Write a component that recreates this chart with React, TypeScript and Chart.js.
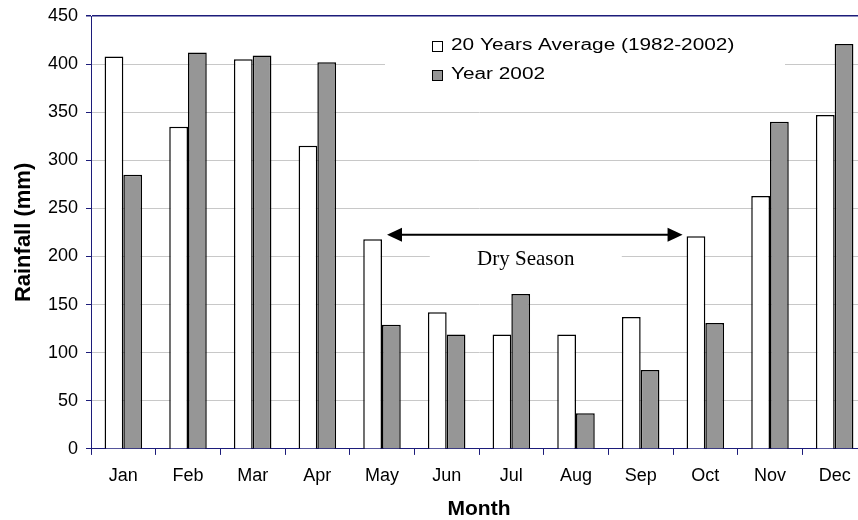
import React, { useEffect, useRef } from "react";
import { Chart, registerables } from "chart.js";

Chart.register(...registerables);

const months = ["Jan", "Feb", "Mar", "Apr", "May", "Jun", "Jul", "Aug", "Sep", "Oct", "Nov", "Dec"];
const average20y = [408, 335, 405, 315, 218, 142, 119, 119, 137, 221, 263, 347];
const year2002 = [285, 412, 409, 402, 129, 119, 161, 37, 82, 131, 340, 421];
const seriesLabels = ["20 Years Average (1982-2002)", "Year 2002"];
const yTicksMax = 450;
const yTickStep = 50;
const drySeasonLabel = "Dry Season";
const drySeasonFrom = 4; // May
const drySeasonTo = 9; // Oct
const drySeasonLevel = 222.7;

const NAVY = "#1c1c7a";
const SANS = "'Liberation Sans', Arial, sans-serif";
const SERIF = "'Liberation Serif', 'Times New Roman', serif";

const overlayPlugin = {
  id: "overlay",
  beforeDatasetsDraw(chart: any) {
    const ctx = chart.ctx;
    const meta0 = chart.getDatasetMeta(0);
    ctx.save();
    ctx.fillStyle = "#fff";
    ctx.fillRect(385, 24, 400, 70);
    const b1 = meta0.data[drySeasonFrom];
    const b2 = meta0.data[drySeasonTo];
    const left = b1.x + b1.width / 2 + 5;
    const right = b2.x - b2.width / 2 - 4;
    const cx = (left + right) / 2 - 9;
    ctx.fillRect(cx - 96, 244, 192, 26);
    ctx.restore();
  },
  afterDatasetsDraw(chart: any) {
    const ctx = chart.ctx;
    const y = chart.scales.y;
    const meta0 = chart.getDatasetMeta(0);
    ctx.save();
    const ds = chart.data.datasets;
    const rows = [46, 75];
    ds.forEach((d: any, i: number) => {
      const cy = rows[i];
      ctx.fillStyle = d.backgroundColor;
      ctx.strokeStyle = "#000";
      ctx.lineWidth = 1;
      ctx.fillRect(432, cy - 5, 10, 10);
      ctx.strokeRect(432.5, cy - 4.5, 10, 10);
      ctx.fillStyle = "#000";
      ctx.font = `16px ${SANS}`;
      ctx.textBaseline = "middle";
      ctx.textAlign = "left";
      ctx.save();
      ctx.translate(451, cy);
      ctx.scale(1.3, 1);
      ctx.fillText(d.label, 0, 0);
      ctx.restore();
    });
    const b1 = meta0.data[drySeasonFrom];
    const b2 = meta0.data[drySeasonTo];
    const left = b1.x + b1.width / 2 + 5;
    const right = b2.x - b2.width / 2 - 4;
    const ay = y.getPixelForValue(drySeasonLevel);
    const head = 15;
    const hw = 7;
    ctx.strokeStyle = "#000";
    ctx.fillStyle = "#000";
    ctx.lineWidth = 2;
    ctx.beginPath();
    ctx.moveTo(left + head - 2, ay);
    ctx.lineTo(right - head + 2, ay);
    ctx.stroke();
    ctx.beginPath();
    ctx.moveTo(left, ay);
    ctx.lineTo(left + head, ay - hw);
    ctx.lineTo(left + head, ay + hw);
    ctx.closePath();
    ctx.fill();
    ctx.beginPath();
    ctx.moveTo(right, ay);
    ctx.lineTo(right - head, ay - hw);
    ctx.lineTo(right - head, ay + hw);
    ctx.closePath();
    ctx.fill();
    const cx = (left + right) / 2 - 9;
    ctx.font = `21px ${SERIF}`;
    ctx.textAlign = "center";
    ctx.textBaseline = "alphabetic";
    ctx.fillText(drySeasonLabel, cx, 265);
    ctx.restore();
  },
};

export default function App() {
  const ref = useRef<HTMLCanvasElement | null>(null);
  useEffect(() => {
    if (!ref.current) return;
    const chart = new Chart(ref.current, {
      type: "bar",
      data: {
        labels: months,
        datasets: [
          {
            label: seriesLabels[0],
            data: average20y,
            backgroundColor: "#ffffff",
            borderColor: "#000",
            borderWidth: 1.5,
            categoryPercentage: 0.58,
            barPercentage: 1,
          },
          {
            label: seriesLabels[1],
            data: year2002,
            backgroundColor: "#969696",
            borderColor: "#000",
            borderWidth: 1.5,
            categoryPercentage: 0.58,
            barPercentage: 1,
          },
        ],
      },
      options: {
        responsive: false,
        animation: false,
        layout: { padding: { left: 10, right: 1, top: 16, bottom: 0 } },
        plugins: { legend: { display: false }, tooltip: { enabled: false } },
        scales: {
          x: {
            afterFit: (s: any) => {
              s.height = 520 - 448.9;
            },
            grid: {
              display: true,
              drawOnChartArea: false,
              drawTicks: true,
              tickLength: 6,
              tickColor: NAVY,
              offset: true,
            },
            border: { color: NAVY, width: 1 },
            ticks: { color: "#000", font: { family: SANS, size: 18 }, padding: 10 },
            title: {
              display: true,
              text: "Month",
              color: "#000",
              font: { family: SANS, size: 21, weight: "bold", lineHeight: 1 },
              padding: { top: 0, bottom: 0 },
            },
          },
          y: {
            min: 0,
            max: yTicksMax,
            afterFit: (s: any) => {
              s.width = 81;
              s.paddingTop = 0;
              s.paddingBottom = 0;
            },
            ticks: {
              stepSize: yTickStep,
              color: "#000",
              font: { family: SANS, size: 18 },
              padding: 8,
            },
            grid: {
              color: (c: any) => (c.tick && (c.tick.value === yTicksMax || c.tick.value === 0) ? NAVY : "#c8c8c8"),
              lineWidth: (c: any) => (c.tick && c.tick.value === yTicksMax ? 1.5 : 1),
              tickColor: NAVY,
              tickLength: 5,
            },
            border: { color: NAVY, width: 1 },
            title: {
              display: true,
              text: "Rainfall (mm)",
              color: "#000",
              font: { family: SANS, size: 22, weight: "bold" },
              padding: { top: 1, bottom: 0 },
            },
          },
        },
      },
      plugins: [overlayPlugin],
    });
    return () => chart.destroy();
  }, []);
  return (
    <div style={{ position: "absolute", left: 0, top: 0, width: 858, height: 520, overflow: "hidden", background: "#fff" }}>
      <canvas ref={ref} width={868} height={520} style={{ display: "block" }} />
    </div>
  );
}
